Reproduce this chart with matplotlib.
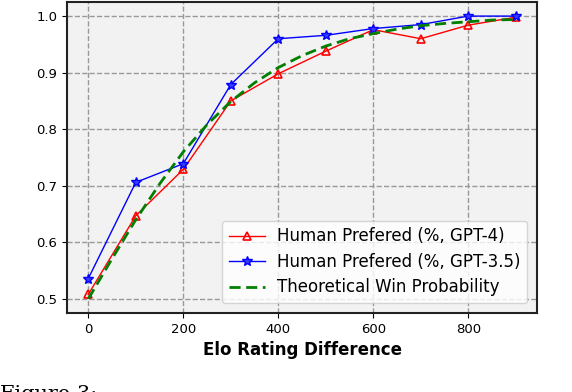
import matplotlib.pyplot as plt

# Elo 차이에 따른 승률 비교
elo_diff = [0, 100, 200, 300, 400, 500, 600, 700, 800, 900]
gpt4_pref = [0.508, 0.647, 0.729, 0.850, 0.898, 0.938, 0.976, 0.960, 0.984, 0.998]
gpt35_pref = [0.536, 0.706, 0.739, 0.879, 0.960, 0.966, 0.978, 0.985, 1.000, 1.000]

theory_x = [0, 50, 100, 150, 200, 250, 300, 350, 400, 450,
            500, 550, 600, 650, 700, 750, 800, 850, 900]
theory_y = [0.500, 0.571, 0.640, 0.703, 0.760, 0.808, 0.849, 0.882, 0.909, 0.930,
            0.947, 0.960, 0.969, 0.977, 0.983, 0.987, 0.990, 0.993, 0.994]

fig = plt.figure(figsize=(5.72, 3.92), dpi=100)
ax = fig.add_axes([0.117, 0.2015, 0.822, 0.7935])
ax.set_facecolor('#f2f2f2')

ax.plot(elo_diff, gpt4_pref, color='red', lw=1, marker='^', markersize=6,
        markerfacecolor='none', markeredgewidth=1.2, label='Human Prefered (%, GPT-4)')
ax.plot(elo_diff, gpt35_pref, color='blue', lw=1, marker='*', markersize=7,
        markerfacecolor='#3a3aff', label='Human Prefered (%, GPT-3.5)')
ax.plot(theory_x, theory_y, color='green', lw=2, ls='--', dashes=(4, 2),
        label='Theoretical Win Probability')

ax.set_xlim(-45, 945)
ax.set_ylim(0.475, 1.025)
ax.set_xticks([0, 200, 400, 600, 800])
ax.set_yticks([0.5, 0.6, 0.7, 0.8, 0.9, 1.0])
ax.tick_params(labelsize=9.5)
ax.grid(True, ls='--', color='#999999', lw=1)
for s in ax.spines.values():
    s.set_linewidth(1.5)
    s.set_color('#222222')

ax.set_xlabel('Elo Rating Difference', fontsize=12, fontweight='bold')
ax.legend(loc='lower right', fontsize=12, handlelength=2.2,
          borderaxespad=0.6, labelspacing=0.45, handletextpad=0.7)

# 아래쪽에 잘린 캡션
fig.text(0.0, 0.018, 'Figure 3:', family='serif', fontsize=15, va='top')

fig.savefig('out.png')
